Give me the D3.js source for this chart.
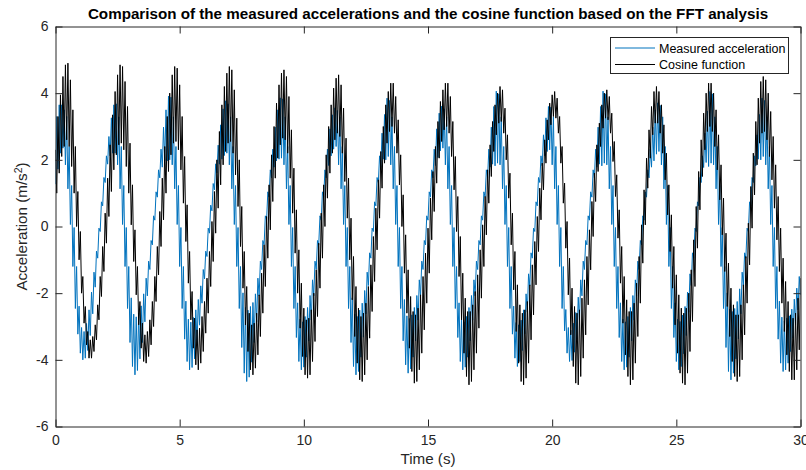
<!DOCTYPE html>
<html><head><meta charset="utf-8">
<script src="https://cdn.jsdelivr.net/npm/d3@7"></script>
<style>
body{margin:0;background:#fff}
text{font-family:"Liberation Sans",Arial,Helvetica,sans-serif}
</style>
</head><body><svg id="c" width="806" height="470"></svg>
<script>
const dt = 0.05; // sampling step (s)
const measured = [
1.27,3.3,1.72,3.65,2.2,3.65,2.35,3.5,1.85,3.3,1.13,2.4,0.06,1.23,-1.2,-0.03,-2.46,-1.2,-3.23,-2.39,
-3.8,-3.03,-4.0,-3.15,-3.95,-2.91,-3.72,-2.5,-3.27,-1.97,-2.62,-1.37,-1.82,-0.74,-0.95,-0.05,-0.15,0.74,0.62,1.47,
1.32,2.12,1.87,2.7,2.12,3.26,2.2,3.65,2.2,3.68,1.85,3.29,1.13,2.4,0.06,1.23,-1.2,-0.03,-2.46,-1.2,
-3.48,-2.14,-4.2,-2.63,-4.45,-2.71,-4.32,-2.6,-3.97,-2.38,-3.48,-2.02,-2.86,-1.55,-2.08,-1.04,-1.29,-0.42,-0.55,0.32,
0.19,1.04,0.88,1.7,1.46,2.32,1.78,2.98,1.97,3.5,1.97,3.91,2.0,3.88,1.85,3.29,1.13,2.4,0.06,1.23,
-1.2,-0.03,-2.46,-1.2,-3.38,-2.24,-4.05,-2.78,-4.3,-2.87,-4.23,-2.73,-3.97,-2.5,-3.52,-2.19,-2.96,-1.78,-2.3,-1.29,
-1.57,-0.74,-0.9,-0.05,-0.2,0.64,0.47,1.29,1.1,1.88,1.61,2.44,1.87,3.05,2.02,3.53,2.13,3.77,2.2,3.68,
1.85,3.29,1.13,2.4,0.06,1.23,-1.2,-0.03,-2.46,-1.2,-3.63,-1.99,-4.4,-2.43,-4.65,-2.51,-4.52,-2.4,-4.07,-2.28,
-3.48,-2.02,-2.86,-1.55,-2.08,-1.04,-1.29,-0.42,-0.55,0.32,0.19,1.04,0.88,1.7,1.46,2.32,1.78,2.98,1.97,3.5,
2.02,3.86,2.05,3.83,1.85,3.29,1.13,2.4,0.06,1.23,-1.2,-0.03,-2.46,-1.2,-3.33,-2.29,-4.05,-2.78,-4.3,-2.86,
-4.22,-2.7,-3.92,-2.43,-3.43,-2.07,-2.81,-1.6,-2.08,-1.04,-1.29,-0.42,-0.55,0.32,0.19,1.04,0.88,1.7,1.46,2.32,
1.83,2.93,2.12,3.35,2.32,3.56,2.4,3.48,1.85,3.29,1.13,2.4,0.06,1.23,-1.2,-0.03,-2.46,-1.2,-3.48,-2.14,
-4.2,-2.63,-4.45,-2.7,-4.35,-2.51,-3.92,-2.3,-3.32,-1.92,-2.62,-1.37,-1.77,-0.79,-0.95,-0.05,-0.15,0.74,0.62,1.47,
1.32,2.12,1.77,2.8,2.02,3.36,2.0,3.85,2.1,3.78,1.85,3.29,1.13,2.4,0.06,1.23,-1.2,-0.03,-2.46,-1.2,
-3.43,-2.19,-4.15,-2.68,-4.4,-2.76,-4.27,-2.65,-3.92,-2.43,-3.43,-2.07,-2.81,-1.6,-2.08,-1.04,-1.29,-0.42,-0.55,0.32,
0.19,1.04,0.88,1.7,1.46,2.32,1.83,2.93,2.07,3.4,2.27,3.61,2.35,3.53,1.85,3.29,1.13,2.4,0.06,1.23,
-1.2,-0.03,-2.46,-1.2,-3.33,-2.29,-4.05,-2.78,-4.3,-2.86,-4.22,-2.7,-3.92,-2.43,-3.43,-2.07,-2.81,-1.6,-2.08,-1.04,
-1.29,-0.42,-0.55,0.32,0.19,1.04,0.88,1.7,1.46,2.32,1.78,2.98,1.87,3.6,1.82,4.06,1.9,3.98,1.85,3.29,
1.13,2.4,0.06,1.23,-1.2,-0.03,-2.46,-1.2,-3.23,-2.39,-3.95,-2.88,-4.2,-2.95,-4.05,-2.81,-3.72,-2.5,-3.22,-2.02,
-2.57,-1.42,-1.77,-0.79,-0.95,-0.05,-0.15,0.74,0.62,1.47,1.32,2.12,1.82,2.75,2.12,3.26,2.25,3.6,2.3,3.58,
1.85,3.29,1.13,2.4,0.06,1.23,-1.2,-0.03,-2.46,-1.2,-3.13,-2.49,-3.8,-3.03,-4.05,-3.11,-4.02,-2.9,-3.77,-2.58,
-3.38,-2.12,-2.81,-1.6,-2.08,-1.04,-1.29,-0.42,-0.55,0.32,0.19,1.04,0.88,1.7,1.46,2.32,1.78,2.98,1.87,3.6,
1.82,4.06,1.9,3.98,1.85,3.29,1.13,2.4,0.06,1.23,-1.2,-0.03,-2.46,-1.2,-3.33,-2.29,-4.05,-2.78,-4.3,-2.86,
-4.22,-2.7,-3.92,-2.43,-3.43,-2.07,-2.81,-1.6,-2.08,-1.04,-1.29,-0.42,-0.55,0.32,0.19,1.04,0.88,1.7,1.46,2.32,
1.78,2.98,1.97,3.5,2.17,3.71,2.25,3.63,1.85,3.29,1.13,2.4,0.06,1.23,-1.2,-0.03,-2.46,-1.2,-3.33,-2.29,
-4.05,-2.78,-4.3,-2.85,-4.2,-2.66,-3.82,-2.4,-3.27,-1.97,-2.57,-1.42,-1.77,-0.79,-0.95,-0.05,-0.15,0.74,0.62,1.47,
1.32,2.12,1.77,2.8,1.92,3.46,1.8,4.05,1.9,3.98,1.85,3.29,1.13,2.4,0.06,1.23,-1.2,-0.03,-2.46,-1.2,
-3.63,-1.99,-4.35,-2.48,-4.6,-2.55,-4.4,-2.46,-3.97,-2.25,-3.37,-1.87,-2.62,-1.37,-1.77,-0.79,-0.95,-0.05,-0.15,0.74,
0.62,1.47,1.32,2.12,1.82,2.75,2.02,3.36,2.0,3.85,2.1,3.78,1.85,3.29,1.13,2.4,0.06,1.23,-1.2,-0.03,
-2.46,-1.2,-3.38,-2.24,-4.1,-2.72,-4.35,-2.83,-4.3,-2.75,-4.1,-2.68,-3.75,-2.48,-3.35,-2.18,-2.95,-1.85,-2.5,-1.5,
-2.05];
const cosineFn = [
2.3,1.0,3.3,1.6,3.95,2.1,4.5,2.4,4.85,2.6,4.9,2.4,4.4,1.8,3.5,1.0,2.4,0.0,1.05,-1.0,
-0.15,-2.0,-1.5,-2.9,-2.4,-3.55,-3.15,-3.95,-3.4,-3.95,-3.3,-3.75,-2.95,-3.4,-2.35,-2.8,-1.5,-2.1,-0.6,-1.35,
0.4,-0.5,1.45,0.3,2.45,1.05,3.35,1.7,4.05,2.15,4.55,2.45,4.85,2.5,4.8,2.3,4.35,1.8,3.6,1.0,
2.5,0.05,1.25,-1.05,-0.1,-2.05,-1.2,-2.95,-2.25,-3.65,-2.9,-4.05,-3.25,-4.1,-3.15,-3.9,-2.8,-3.55,-2.25,-3.0,
-1.5,-2.25,-0.6,-1.45,0.45,-0.6,1.45,0.2,2.4,1.0,3.3,1.65,4.0,2.15,4.55,2.5,4.8,2.55,4.75,2.3,
4.25,1.7,3.3,0.7,2.1,-0.45,0.65,-1.7,-0.75,-2.8,-1.95,-3.65,-2.75,-4.15,-3.1,-4.3,-3.05,-4.1,-2.7,-3.75,
-2.25,-3.2,-1.55,-2.6,-0.75,-1.8,0.15,-1.05,1.05,-0.2,2.0,0.55,2.85,1.25,3.65,1.85,4.2,2.25,4.6,2.5,
4.8,2.55,4.7,2.2,4.1,1.55,3.25,0.6,2.0,-0.6,0.6,-1.85,-0.75,-2.95,-1.8,-3.75,-2.6,-4.3,-2.95,-4.45,
-2.9,-4.25,-2.6,-3.85,-2.05,-3.3,-1.4,-2.6,-0.55,-1.8,0.3,-0.95,1.25,-0.1,2.15,0.75,3.0,1.45,3.7,2.05,
4.25,2.45,4.6,2.65,4.7,2.6,4.5,2.2,3.9,1.45,2.9,0.4,1.75,-0.8,0.5,-2.0,-0.7,-3.05,-1.7,-3.9,
-2.45,-4.45,-2.8,-4.55,-2.75,-4.45,-2.5,-4.05,-2.0,-3.45,-1.3,-2.7,-0.5,-1.85,0.4,-0.95,1.25,0.0,2.15,0.85,
3.0,1.6,3.65,2.2,4.15,2.6,4.45,2.8,4.55,2.7,4.25,2.2,3.55,1.35,2.65,0.25,1.45,-1.0,0.25,-2.2,
-0.9,-3.3,-1.8,-4.1,-2.45,-4.6,-2.7,-4.65,-2.6,-4.45,-2.3,-4.0,-1.8,-3.35,-1.15,-2.55,-0.3,-1.65,0.55,-0.7,
1.4,0.25,2.25,1.15,3.0,1.9,3.65,2.5,4.05,2.85,4.3,3.0,4.3,2.8,3.9,2.2,3.2,1.25,2.15,0.0,
0.95,-1.4,-0.25,-2.6,-1.3,-3.65,-2.1,-4.35,-2.55,-4.7,-2.65,-4.65,-2.45,-4.3,-2.05,-3.8,-1.5,-3.1,-0.8,-2.3,
-0.05,-1.4,0.85,-0.4,1.65,0.45,2.4,1.3,3.15,2.05,3.75,2.55,4.1,2.9,4.3,3.0,4.3,2.8,3.9,2.1,
3.15,1.1,2.1,-0.15,0.9,-1.5,-0.3,-2.8,-1.4,-3.8,-2.15,-4.5,-2.55,-4.75,-2.55,-4.65,-2.35,-4.3,-1.95,-3.8,
-1.45,-3.05,-0.7,-2.15,0.05,-1.2,0.9,-0.25,1.7,0.7,2.45,1.5,3.15,2.25,3.65,2.75,4.0,3.1,4.2,3.15,
4.1,2.8,3.55,2.0,2.75,0.85,1.6,-0.55,0.4,-1.9,-0.75,-3.15,-1.75,-4.1,-2.35,-4.65,-2.6,-4.75,-2.5,-4.55,
-2.25,-4.1,-1.75,-3.4,-1.15,-2.65,-0.45,-1.75,0.3,-0.75,1.15,0.2,1.9,1.1,2.6,1.9,3.2,2.6,3.7,3.05,
3.95,3.3,4.05,3.25,3.85,2.8,3.3,1.9,2.4,0.7,1.3,-0.65,0.15,-2.05,-0.95,-3.25,-1.85,-4.2,-2.4,-4.7,
-2.6,-4.75,-2.5,-4.5,-2.15,-3.95,-1.6,-3.25,-0.9,-2.35,-0.1,-1.3,0.75,-0.3,1.6,0.75,2.45,1.65,3.1,2.4,
3.65,2.95,4.0,3.25,4.1,3.2,3.9,2.8,3.4,1.95,2.55,0.9,1.55,-0.35,0.5,-1.7,-0.6,-2.9,-1.5,-3.85,
-2.2,-4.5,-2.55,-4.75,-2.55,-4.6,-2.3,-4.1,-1.7,-3.3,-0.9,-2.3,0.05,-1.1,1.1,0.05,2.05,1.15,2.9,2.05,
3.6,2.75,4.05,3.1,4.2,3.1,4.05,2.8,3.65,2.2,3.05,1.4,2.2,0.35,1.25,-0.75,0.35,-1.85,-0.6,-2.95,
-1.45,-3.8,-2.05,-4.4,-2.45,-4.7,-2.6,-4.75,-2.45,-4.4,-2.0,-3.75,-1.3,-2.85,-0.4,-1.8,0.6,-0.65,1.65,0.5,
2.6,1.5,3.4,2.3,4.0,2.85,4.3,3.0,4.3,2.85,4.0,2.4,3.5,1.7,2.75,0.8,1.85,-0.25,0.85,-1.35,
-0.2,-2.4,-1.1,-3.3,-1.85,-4.05,-2.35,-4.5,-2.65,-4.65,-2.65,-4.5,-2.35,-4.0,-1.75,-3.25,-0.9,-2.3,0.1,-1.15,
1.2,-0.05,2.2,0.95,3.15,1.85,3.85,2.5,4.35,2.8,4.5,2.85,4.4,2.6,4.0,2.1,3.45,1.4,2.7,0.55,
1.85,-0.4,0.9,-1.35,-0.05,-2.3,-0.95,-3.15,-1.65,-3.85,-2.25,-4.35,-2.65,-4.6,-2.75,-4.6,-2.6,-4.3,-2.15,-3.7,
-1.55];
const xTicks = [0,5,10,15,20,25,30];
const yTicks = [-6,-4,-2,0,2,4,6];
const seriesNames = ["Measured acceleration","Cosine function"];
const seriesColors = ["#0072BD","#000000"];
const titleText = "Comparison of the measured accelerations and the cosine function based on the FFT analysis";
const xLabel = "Time (s)";

const svg = d3.select("#c");
const L = 55.5, R = 800.5, T = 26.5, B = 426.5;
const axisColor = "#262626";
const x = d3.scaleLinear().domain([0,30]).range([L,R]);
const y = d3.scaleLinear().domain([-6,6]).range([B,T]);

svg.append("rect").attr("width",806).attr("height",470).attr("fill","#fff");
svg.append("defs").append("clipPath").attr("id","clip")
  .append("rect").attr("x",L).attr("y",T).attr("width",R-L).attr("height",B-T);

const line = d3.line().x((d,i)=>x(i*dt)).y(d=>y(d));
const g = svg.append("g").attr("clip-path","url(#clip)");
[measured, cosineFn].forEach((s,k)=>{
  g.append("path").datum(s).attr("d",line).attr("fill","none")
   .attr("stroke",seriesColors[k]).attr("stroke-width",1).attr("stroke-linejoin","miter");
});

const fmt = d => String(d);
function styleAxis(sel){
  sel.select(".domain").attr("stroke",axisColor).attr("fill","none");
  sel.selectAll(".tick line").attr("stroke",axisColor);
  sel.selectAll(".tick text").attr("fill",axisColor).style("font-size","14px")
    .style("font-family",'"Liberation Sans",Arial,Helvetica,sans-serif');
}
svg.append("g").attr("transform",`translate(0,${B})`)
  .call(d3.axisBottom(x).tickValues(xTicks).tickFormat(fmt).tickSizeInner(-7).tickSizeOuter(0).tickPadding(9))
  .call(styleAxis);
svg.append("g").attr("transform",`translate(0,${T})`)
  .call(d3.axisTop(x).tickValues(xTicks).tickSizeInner(-7).tickSizeOuter(0).tickFormat(""))
  .call(styleAxis);
svg.append("g").attr("transform",`translate(${L},0)`)
  .call(d3.axisLeft(y).tickValues(yTicks).tickFormat(fmt).tickSizeInner(-7).tickSizeOuter(0).tickPadding(7))
  .call(styleAxis);
svg.append("g").attr("transform",`translate(${R},0)`)
  .call(d3.axisRight(y).tickValues(yTicks).tickSizeInner(-7).tickSizeOuter(0).tickFormat(""))
  .call(styleAxis);

svg.append("text").attr("x",(L+R)/2).attr("y",19).attr("text-anchor","middle")
  .style("font-size","15.2px").style("font-weight","bold").attr("fill","#000").text(titleText);
svg.append("text").attr("x",(L+R)/2).attr("y",464).attr("text-anchor","middle")
  .style("font-size","15.2px").attr("fill",axisColor).text(xLabel);
const yl = svg.append("text").attr("transform",`translate(27,${(T+B)/2}) rotate(-90)`)
  .attr("text-anchor","middle").style("font-size","15.2px").attr("fill",axisColor);
yl.append("tspan").text("Acceleration (m/s");
yl.append("tspan").attr("dy",-5).style("font-size","10.5px").text("2");
yl.append("tspan").attr("dy",5).text(")");

const lg = svg.append("g");
lg.append("rect").attr("x",610.5).attr("y",37.5).attr("width",178).attr("height",36)
  .attr("fill","#fff").attr("stroke",axisColor).attr("stroke-width",1);
seriesNames.forEach((n,k)=>{
  const yy = 48 + k*16.5;
  lg.append("line").attr("x1",615).attr("x2",655).attr("y1",yy).attr("y2",yy)
    .attr("stroke",seriesColors[k]).attr("stroke-width",1);
  lg.append("text").attr("x",659).attr("y",yy+4.5).style("font-size","12.5px")
    .attr("fill","#000").text(n);
});
</script></body></html>
